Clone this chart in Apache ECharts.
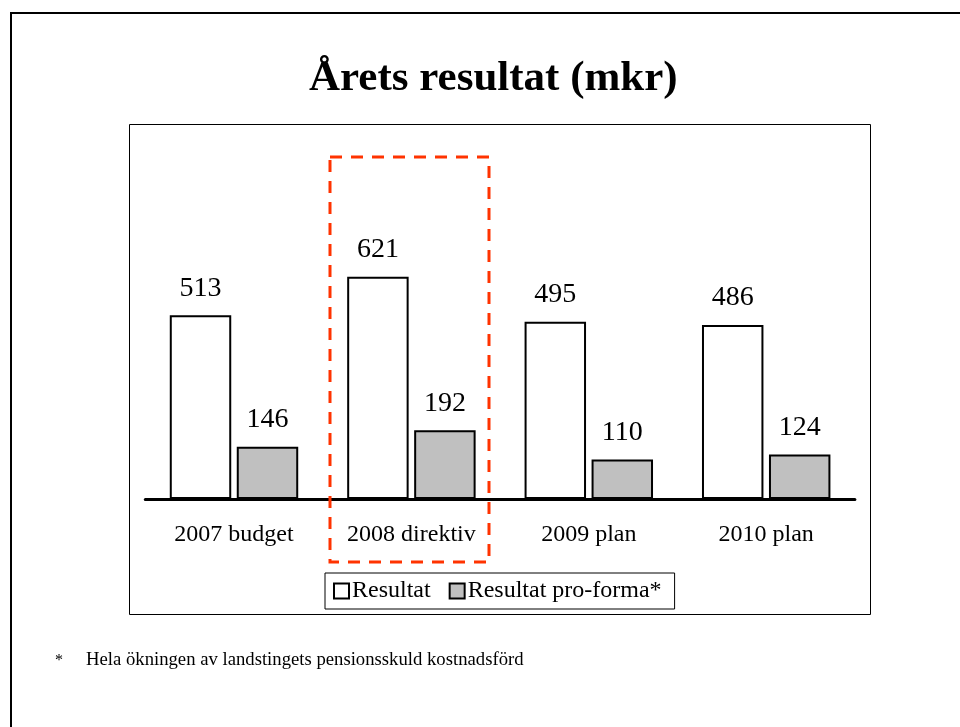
<!DOCTYPE html>
<html>
<head>
<meta charset="utf-8">
<script src="https://cdn.jsdelivr.net/npm/echarts@6/dist/echarts.min.js"></script>
<style>
  html, body { margin: 0; padding: 0; background: #fff; }
  #chart { width: 960px; height: 727px; }
</style>
</head>
<body>
<div id="chart"></div>
<script>
const categories = ['2007 budget', '2008 direktiv', '2009 plan', '2010 plan'];
const resultat = [513, 621, 495, 486];
const proForma = [146, 192, 110, 124];
const seriesNames = ['Resultat', 'Resultat pro-forma*'];
const titleText = 'Årets resultat (mkr)';
const footnoteMark = '*';
const footnoteText = 'Hela ökningen av landstingets pensionsskuld kostnadsförd';

const serif = "'Liberation Serif', 'Times New Roman', serif";
const chart = echarts.init(document.getElementById('chart'), null, { renderer: 'canvas' });

const labelStyle = {
  show: true,
  position: 'top',
  distance: 13,
  fontFamily: serif,
  fontSize: 28,
  color: '#000'
};

chart.setOption({
  backgroundColor: '#fff',
  animation: false,
  title: {
    text: titleText,
    left: 309,
    top: 57,
    padding: 0,
    textStyle: { fontFamily: serif, fontSize: 43, fontWeight: 'bold', color: '#000' }
  },
  legend: {
    data: seriesNames,
    left: 325,
    top: 573,
    orient: 'horizontal',
    padding: [6, 13, 6, 8],
    borderColor: '#000',
    borderWidth: 1,
    itemGap: 18,
    itemWidth: 15,
    itemHeight: 15,
    icon: 'rect',
    textStyle: { fontFamily: serif, fontSize: 24, color: '#000', padding: [0, 0, 0, -2] }
  },
  grid: { left: 145.3, right: 105.1, top: 141, bottom: 228, containLabel: false },
  xAxis: {
    type: 'category',
    data: categories,
    axisLine: { show: true, lineStyle: { color: '#000', width: 3 } },
    axisTick: { show: false },
    axisLabel: { margin: 24, fontFamily: serif, fontSize: 24, color: '#000' },
    splitLine: { show: false }
  },
  yAxis: {
    type: 'value',
    min: 0,
    max: 1000,
    show: false,
    splitLine: { show: false }
  },
  series: [
    {
      name: seriesNames[0],
      type: 'bar',
      data: resultat,
      barGap: '9%',
      barCategoryGap: '27.6%',
      itemStyle: { color: '#ffffff', borderColor: '#000', borderWidth: 2 },
      label: labelStyle
    },
    {
      name: seriesNames[1],
      type: 'bar',
      data: proForma,
      itemStyle: { color: '#c0c0c0', borderColor: '#000', borderWidth: 2 },
      label: labelStyle
    }
  ],
  graphic: [
    { type: 'line', shape: { x1: 11, y1: 13, x2: 960, y2: 13 }, style: { stroke: '#000', lineWidth: 2 }, z: 10 },
    { type: 'line', shape: { x1: 11, y1: 12, x2: 11, y2: 727 }, style: { stroke: '#000', lineWidth: 2 }, z: 10 },
    { type: 'rect', shape: { x: 129.5, y: 124.5, width: 741, height: 490 }, style: { fill: 'none', stroke: '#000', lineWidth: 1 }, z: 10 },
    { type: 'rect', shape: { x: 330, y: 157, width: 159, height: 405 }, style: { fill: 'none', stroke: '#ff3300', lineWidth: 3, lineDash: [12, 9] }, z: 20 },
    { type: 'text', left: 55, top: 653, style: { text: footnoteMark, font: '16px ' + serif, fill: '#000' }, z: 10 },
    { type: 'text', left: 86, top: 651, style: { text: footnoteText, font: '18.7px ' + serif, fill: '#000' }, z: 10 }
  ]
});
</script>
</body>
</html>
